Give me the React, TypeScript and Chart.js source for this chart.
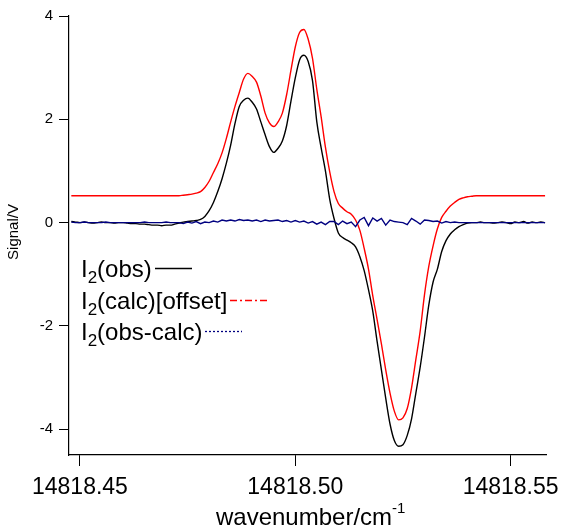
import React, { useEffect, useRef } from "react";
import { Chart, registerables } from "chart.js";

Chart.register(...registerables);

// wavenumber grid (cm^-1)
const wavenumbers = [
  14818.448, 14818.449, 14818.45, 14818.451, 14818.452, 14818.453, 14818.454, 14818.455, 14818.456, 14818.457,
  14818.458, 14818.459, 14818.46, 14818.461, 14818.462, 14818.463, 14818.464, 14818.465, 14818.466, 14818.467,
  14818.468, 14818.469, 14818.47, 14818.471, 14818.472, 14818.473, 14818.474, 14818.475, 14818.476, 14818.477,
  14818.478, 14818.479, 14818.48, 14818.481, 14818.482, 14818.483, 14818.484, 14818.485, 14818.486, 14818.487,
  14818.488, 14818.489, 14818.49, 14818.491, 14818.492, 14818.493, 14818.494, 14818.495, 14818.496, 14818.497,
  14818.498, 14818.499, 14818.5, 14818.501, 14818.502, 14818.503, 14818.504, 14818.505, 14818.506, 14818.507,
  14818.508, 14818.509, 14818.51, 14818.511, 14818.512, 14818.513, 14818.514, 14818.515, 14818.516, 14818.517,
  14818.518, 14818.519, 14818.52, 14818.521, 14818.522, 14818.523, 14818.524, 14818.525, 14818.526, 14818.527,
  14818.528, 14818.529, 14818.53, 14818.531, 14818.532, 14818.533, 14818.534, 14818.535, 14818.536, 14818.537,
  14818.538, 14818.539, 14818.54, 14818.541, 14818.542, 14818.543, 14818.544, 14818.545, 14818.546, 14818.547,
  14818.548, 14818.549, 14818.55, 14818.551, 14818.552, 14818.553, 14818.554, 14818.555, 14818.556, 14818.557,
  14818.558,
];

// I2(obs)
const obsSignal = [
  0.02, 0.01, 0.0, 0.01, 0.0, -0.01, 0.0, 0.01, 0.0, 0.0,
  -0.01, 0.0, 0.0, -0.01, -0.02, -0.02, -0.03, -0.03, -0.04, -0.05,
  -0.05, -0.06, -0.05, -0.05, -0.03, -0.01, 0.01, 0.02, 0.03, 0.04,
  0.06, 0.12, 0.23, 0.39, 0.6, 0.85, 1.15, 1.5, 1.92, 2.25,
  2.37, 2.41, 2.33, 2.2, 1.95, 1.7, 1.47, 1.36, 1.44, 1.58,
  1.88, 2.35, 2.8, 3.15, 3.24, 3.12, 2.75, 1.95, 1.45, 1.0,
  0.45, 0.08, -0.2, -0.29, -0.34, -0.39, -0.47, -0.66, -0.93, -1.3,
  -1.72, -2.3, -2.85, -3.4, -3.9, -4.22, -4.33, -4.3, -4.12, -3.8,
  -3.3, -2.8, -2.22, -1.6, -1.15, -0.9, -0.56, -0.35, -0.22, -0.14,
  -0.08, -0.04, -0.01, 0.0, 0.0, 0.01, 0.0, 0.0, -0.01, 0.0,
  0.01, 0.0, -0.02, 0.01, 0.0, 0.02, -0.01, 0.01, 0.0, 0.01,
  0.0,
];

// I2(calc) with +0.5 offset
const calcSignal = [
  0.52, 0.52, 0.52, 0.52, 0.52, 0.52, 0.52, 0.52, 0.52, 0.52,
  0.52, 0.52, 0.52, 0.52, 0.52, 0.52, 0.52, 0.52, 0.52, 0.52,
  0.52, 0.52, 0.52, 0.52, 0.52, 0.52, 0.53, 0.54, 0.55, 0.57,
  0.6, 0.68, 0.8, 0.97, 1.14, 1.35, 1.63, 1.95, 2.25, 2.52,
  2.78, 2.89, 2.83, 2.72, 2.45, 2.12, 1.93, 1.86, 1.95, 2.12,
  2.48, 2.95, 3.4, 3.68, 3.74, 3.55, 3.18, 2.58, 2.05, 1.46,
  0.98, 0.6, 0.37, 0.28, 0.21, 0.16, 0.05, -0.15, -0.5, -0.9,
  -1.42, -1.88, -2.35, -2.85, -3.3, -3.65, -3.82, -3.78, -3.6, -3.2,
  -2.65, -2.1, -1.4, -0.85, -0.45, -0.12, 0.1, 0.22, 0.32, 0.39,
  0.45, 0.48, 0.5, 0.51, 0.52, 0.52, 0.52, 0.52, 0.52, 0.52,
  0.52, 0.52, 0.52, 0.52, 0.52, 0.52, 0.52, 0.52, 0.52, 0.52,
  0.52,
];

// I2(obs-calc)
const diffSignal = [
  0.01, 0.0, 0.0, 0.01, 0.0, 0.0, 0.0, 0.0, 0.01, 0.0,
  0.0, 0.0, 0.0, 0.0, 0.0, 0.0, 0.0, 0.01, 0.0, 0.0,
  0.0, 0.0, 0.01, 0.0, 0.0, 0.0, -0.02, 0.01, -0.01, 0.02,
  -0.02, 0.01, 0.0, 0.03, 0.01, 0.05, 0.03, 0.05, 0.03, 0.06,
  0.04, 0.05, 0.03, 0.05, 0.02, 0.05, 0.03, 0.04, 0.05, 0.02,
  0.04, 0.01, 0.04, 0.01, 0.03, -0.01, 0.02, -0.03, 0.01, -0.04,
  0.02, 0.02, -0.04, 0.03, -0.02, 0.01, -0.08, 0.05, 0.1, -0.06,
  0.09, 0.03, 0.08, -0.05, 0.05, 0.02, 0.01, 0.0, -0.04, 0.08,
  0.03, -0.03, 0.05, 0.04, 0.02, 0.03, -0.01, 0.02, 0.0, 0.01,
  0.0, 0.0, 0.0, 0.0, 0.0, 0.0, 0.0, 0.0, 0.0, 0.0,
  0.0, 0.0, 0.0, 0.0, 0.0, 0.0, 0.0, 0.0, 0.0, 0.0,
  0.0,
];

const xTickValues = [14818.45, 14818.5, 14818.55];
const yTickValues = [-4, -2, 0, 2, 4];

const legendBase = ["I", "I", "I"];
const legendSub = ["2", "2", "2"];
const legendRest = ["(obs)", "(calc)[offset]", "(obs-calc)"];
const seriesColors = ["#000000", "#ff0000", "#000080"];
const legendDashes = [[], [7, 3, 2, 3], [2, 2]];

const xTitle = "wavenumber/cm";
const xTitleSup = "-1";
const yTitle = "Signal/V";

const FONT = '"Liberation Sans", Arial, sans-serif';

const textPlugin = {
  id: "igorTexts",
  afterDraw(chart: any) {
    const ctx = chart.ctx as CanvasRenderingContext2D;
    ctx.save();
    ctx.fillStyle = "#000";
    ctx.textBaseline = "alphabetic";
    ctx.textAlign = "left";

    // legend
    const left = 81;
    const baselines = [277, 308.5, 340];
    for (let i = 0; i < legendRest.length; i++) {
      let x = left;
      const b = baselines[i];
      ctx.fillStyle = "#000";
      ctx.font = `24px ${FONT}`;
      ctx.fillText(legendBase[i], x, b);
      x += ctx.measureText(legendBase[i]).width;
      ctx.font = `17px ${FONT}`;
      ctx.fillText(legendSub[i], x, b + 6);
      x += ctx.measureText(legendSub[i]).width;
      ctx.font = `24px ${FONT}`;
      ctx.fillText(legendRest[i], x, b);
      x += ctx.measureText(legendRest[i]).width;
      const ly = Math.round(b - 9) + 0.5;
      ctx.beginPath();
      ctx.strokeStyle = seriesColors[i];
      ctx.lineWidth = i === 0 ? 1.5 : 1.3;
      ctx.setLineDash(legendDashes[i]);
      ctx.moveTo(Math.round(x + 3), ly);
      ctx.lineTo(Math.round(x + 40), ly);
      ctx.stroke();
      ctx.setLineDash([]);
    }

    // x axis title with superscript
    ctx.fillStyle = "#000";
    ctx.font = `24px ${FONT}`;
    const wMain = ctx.measureText(xTitle).width;
    ctx.font = `15px ${FONT}`;
    const wSup = ctx.measureText(xTitleSup).width;
    const area = chart.chartArea;
    const cx = (area.left + area.right) / 2 + 3;
    const startX = cx - (wMain + wSup) / 2;
    ctx.font = `24px ${FONT}`;
    ctx.fillText(xTitle, startX, 525);
    ctx.font = `15px ${FONT}`;
    ctx.fillText(xTitleSup, startX + wMain, 513);

    // y axis title, rotated
    ctx.translate(18, 232);
    ctx.rotate(-Math.PI / 2);
    ctx.textAlign = "center";
    ctx.font = `15px ${FONT}`;
    ctx.fillText(yTitle, 0, 0);
    ctx.restore();
  },
};

export default function App() {
  const canvasRef = useRef<HTMLCanvasElement | null>(null);

  useEffect(() => {
    const canvas = canvasRef.current;
    if (!canvas) return;
    const toPts = (ys: number[]) => wavenumbers.map((x, i) => ({ x, y: ys[i] }));
    const chart = new Chart(canvas, {
      type: "line",
      data: {
        datasets: [
          {
            label: "I2(obs-calc)",
            data: toPts(diffSignal),
            borderColor: seriesColors[2],
            borderWidth: 1.4,
            pointRadius: 0,
            tension: 0,
            order: 0,
          },
          {
            label: "I2(obs)",
            data: toPts(obsSignal),
            borderColor: seriesColors[0],
            borderWidth: 1.4,
            pointRadius: 0,
            cubicInterpolationMode: "monotone",
            order: 1,
          },
          {
            label: "I2(calc)[offset]",
            data: toPts(calcSignal),
            borderColor: seriesColors[1],
            borderWidth: 1.4,
            pointRadius: 0,
            cubicInterpolationMode: "monotone",
            order: 2,
          },
        ],
      },
      options: {
        animation: false,
        responsive: false,
        maintainAspectRatio: false,
        devicePixelRatio: 1,
        layout: { padding: { top: 16, right: 19, left: 0, bottom: 0 } },
        plugins: {
          legend: { display: false },
          tooltip: { enabled: false },
          title: { display: false },
        },
        scales: {
          x: {
            type: "linear",
            min: 14818.44746,
            max: 14818.5583,
            afterFit: (s: any) => {
              s.height = 74;
            },
            afterBuildTicks: (s: any) => {
              s.ticks = xTickValues.map((v) => ({ value: v }));
            },
            grid: {
              drawOnChartArea: false,
              drawTicks: true,
              tickLength: 11,
              tickColor: "#000",
              tickWidth: 1,
            },
            border: { display: true, color: "#000", width: 1.2 },
            ticks: {
              autoSkip: false,
              maxRotation: 0,
              minRotation: 0,
              padding: 8,
              color: "#000",
              font: { family: FONT, size: 23 },
              callback: (v: any) => Number(v).toFixed(2),
            },
          },
          y: {
            type: "linear",
            min: -4.5,
            max: 4,
            afterFit: (s: any) => {
              s.width = 69;
            },
            afterBuildTicks: (s: any) => {
              s.ticks = yTickValues.map((v) => ({ value: v }));
            },
            grid: {
              drawOnChartArea: false,
              drawTicks: true,
              tickLength: 10,
              tickColor: "#000",
              tickWidth: 1,
            },
            border: { display: true, color: "#000", width: 1.2 },
            ticks: {
              autoSkip: false,
              padding: 6,
              color: "#000",
              font: { family: FONT, size: 15 },
              callback: (v: any) => String(v),
            },
          },
        },
      },
      plugins: [textPlugin],
    });
    return () => chart.destroy();
  }, []);

  return (
    <div style={{ position: "absolute", left: 0, top: 0, width: 568, height: 529, background: "#fff" }}>
      <canvas ref={canvasRef} width={568} height={529} style={{ display: "block" }} />
    </div>
  );
}
